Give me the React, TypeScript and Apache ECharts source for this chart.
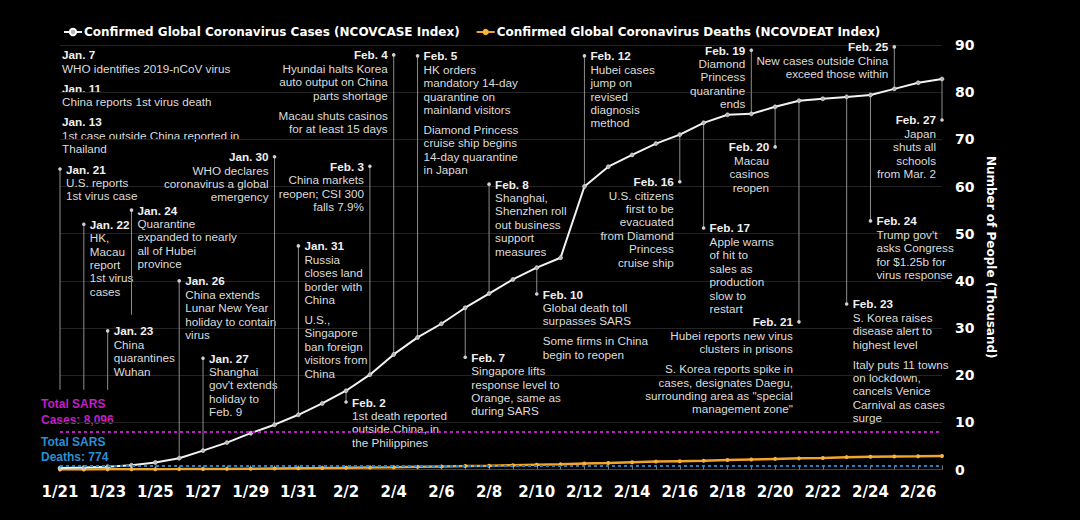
import React, { useEffect, useRef } from "react";
import * as echarts from "echarts";

const dates = [
  "1/21", "1/22", "1/23", "1/24", "1/25", "1/26", "1/27", "1/28", "1/29", "1/30", "1/31",
  "2/1", "2/2", "2/3", "2/4", "2/5", "2/6", "2/7", "2/8", "2/9", "2/10", "2/11", "2/12",
  "2/13", "2/14", "2/15", "2/16", "2/17", "2/18", "2/19", "2/20", "2/21", "2/22", "2/23",
  "2/24", "2/25", "2/26", "2/27",
];

// thousands of people
const cases = [
  0.3, 0.4, 0.6, 0.9, 1.5, 2.4, 4.0, 5.7, 7.7, 9.5, 11.6,
  14.0, 16.7, 20.1, 24.4, 28.0, 30.9, 34.3, 37.3, 40.3, 42.8, 44.9, 60.0,
  64.2, 66.7, 69.1, 71.0, 73.5, 75.2, 75.4, 76.9, 78.2, 78.6, 79.0,
  79.4, 80.7, 82.0, 82.8,
];

const deaths = [
  0.01, 0.02, 0.03, 0.04, 0.06, 0.08, 0.11, 0.13, 0.17, 0.21, 0.26,
  0.3, 0.36, 0.43, 0.49, 0.56, 0.64, 0.72, 0.81, 0.91, 1.02, 1.12, 1.26,
  1.38, 1.53, 1.67, 1.77, 1.87, 2.01, 2.13, 2.25, 2.36, 2.46, 2.62,
  2.7, 2.76, 2.8, 2.86,
];

const sarsCases = 8.096;
const sarsDeaths = 0.774;

const caseName = "Confirmed Global Coronavirus Cases (NCOVCASE Index)";
const deathName = "Confirmed Global Coronavirus Deaths (NCOVDEAT Index)";

type Note = { date: string; at: number; end?: number; side: "r" | "l"; text: string };

const notes: Note[] = [
  { date: "1/21", at: 63.7, end: 16.9, side: "r", text: "Jan. 21\nU.S. reports\n1st virus case" },
  { date: "1/22", at: 52.0, end: 16.9, side: "r", text: "Jan. 22\nHK,\nMacau\nreport\n1st virus\ncases" },
  { date: "1/23", at: 29.4, end: 16.9, side: "r", text: "Jan. 23\nChina\nquarantines\nWuhan" },
  { date: "1/24", at: 55.0, end: 32.8, side: "r", text: "Jan. 24\nQuarantine\nexpanded to nearly\nall of Hubei\nprovince" },
  { date: "1/26", at: 40.0, side: "r", text: "Jan. 26\nChina extends\nLunar New Year\nholiday to contain\nvirus" },
  { date: "1/27", at: 23.6, side: "r", text: "Jan. 27\nShanghai\ngov't extends\nholiday to\nFeb. 9" },
  { date: "1/30", at: 66.3, side: "l", text: "Jan. 30\nWHO declares\ncoronavirus a global\nemergency" },
  { date: "1/31", at: 47.4, side: "r", text: "Jan. 31\nRussia\ncloses land\nborder with\nChina\n\nU.S.,\nSingapore\nban foreign\nvisitors from\nChina" },
  { date: "2/2", at: 14.3, side: "r", text: "Feb. 2\n1st death reported\noutside China, in\nthe Philippines" },
  { date: "2/3", at: 64.3, side: "l", text: "Feb. 3\nChina markets\nreopen; CSI 300\nfalls 7.9%" },
  { date: "2/4", at: 87.9, side: "l", text: "Feb. 4\nHyundai halts Korea\nauto output on China\nparts shortage\n\nMacau shuts casinos\nfor at least 15 days" },
  { date: "2/5", at: 87.7, side: "r", text: "Feb. 5\nHK orders\nmandatory 14-day\nquarantine on\nmainland visitors\n\nDiamond Princess\ncruise ship begins\n14-day quarantine\nin Japan" },
  { date: "2/7", at: 23.8, side: "r", text: "Feb. 7\nSingapore lifts\nresponse level to\nOrange, same as\nduring SARS" },
  { date: "2/8", at: 60.5, side: "r", text: "Feb. 8\nShanghai,\nShenzhen roll\nout business\nsupport\nmeasures" },
  { date: "2/10", at: 37.2, side: "r", text: "Feb. 10\nGlobal death toll\nsurpasses SARS\n\nSome firms in China\nbegin to reopen" },
  { date: "2/12", at: 87.7, side: "r", text: "Feb. 12\nHubei cases\njump on\nrevised\ndiagnosis\nmethod" },
  { date: "2/16", at: 61.0, side: "l", text: "Feb. 16\nU.S. citizens\nfirst to be\nevacuated\nfrom Diamond\nPrincess\ncruise ship" },
  { date: "2/17", at: 51.2, side: "r", text: "Feb. 17\nApple warns\nof hit to\nsales as\nproduction\nslow to\nrestart" },
  { date: "2/19", at: 88.9, side: "l", text: "Feb. 19\nDiamond\nPrincess\nquarantine\nends" },
  { date: "2/20", at: 68.4, side: "l", text: "Feb. 20\nMacau\ncasinos\nreopen" },
  { date: "2/21", at: 31.3, side: "l", text: "Feb. 21\nHubei reports new virus\nclusters in prisons\n\nS. Korea reports spike in\ncases, designates Daegu,\nsurrounding area as \"special\nmanagement zone\"" },
  { date: "2/23", at: 35.1, side: "r", text: "Feb. 23\nS. Korea raises\ndisease alert to\nhighest level\n\nItaly puts 11 towns\non lockdown,\ncancels Venice\nCarnival as cases\nsurge" },
  { date: "2/24", at: 52.7, side: "r", text: "Feb. 24\nTrump gov't\nasks Congress\nfor $1.25b for\nvirus response" },
  { date: "2/25", at: 89.6, side: "l", text: "Feb. 25\nNew cases outside China\nexceed those within" },
  { date: "2/27", at: 74.1, side: "l", text: "Feb. 27\nJapan\nshuts all\nschools\nfrom Mar. 2" },
];

const earlyNotes = [
  "Jan. 7\nWHO identifies 2019-nCoV virus",
  "Jan. 11\nChina reports 1st virus death",
  "Jan. 13\n1st case outside China reported in\nThailand",
];

const LH = 13.4;
const GAP = 6.6;
const NOTE_FONT = "Liberation Sans, Arial, sans-serif";
const NOTE_SIZE = 11.7;
const NOTE_COLOR = "#dcdcdc";

function textBlock(text: string, x: number, yTop: number, align: "left" | "right") {
  const els: any[] = [];
  const paras = text.split("\n\n");
  let y = yTop;
  paras.forEach((p, pi) => {
    let lines = p.split("\n");
    if (pi === 0) {
      els.push({
        type: "text",
        x,
        y,
        style: {
          text: lines[0],
          fill: "#f0f0f0",
          fontFamily: NOTE_FONT,
          fontSize: NOTE_SIZE,
          fontWeight: "bold",
          align,
          textAlign: align,
          verticalAlign: "top",
          textVerticalAlign: "top",
          lineHeight: LH,
        },
      });
      y += LH;
      lines = lines.slice(1);
    }
    if (lines.length) {
      els.push({
        type: "text",
        x,
        y,
        style: {
          text: lines.join("\n"),
          fill: NOTE_COLOR,
          fontFamily: NOTE_FONT,
          fontSize: NOTE_SIZE,
          align,
          textAlign: align,
          verticalAlign: "top",
          textVerticalAlign: "top",
          lineHeight: LH,
        },
      });
      y += lines.length * LH;
    }
    y += GAP;
  });
  return els;
}

export default function App() {
  const ref = useRef<HTMLDivElement>(null);

  useEffect(() => {
    document.body.style.margin = "0";
    document.body.style.background = "#000";
    if (!ref.current) return;
    const chart = echarts.init(ref.current, null, { renderer: "svg" });

    const noteData = notes.map((n, i) => {
      const idx = dates.indexOf(n.date);
      return [idx, n.at, n.end !== undefined ? n.end : cases[idx], i];
    });

    const graphicEls: any[] = [];
    let yTop = 55 - LH / 2;
    earlyNotes.forEach((t) => {
      graphicEls.push(...textBlock(t, 62, yTop, "left"));
      yTop += t.split("\n").length * LH + GAP;
    });
    graphicEls.push({
      type: "text",
      left: 41,
      top: 396,
      style: {
        text: "Total SARS\nCases: 8,096",
        fill: "#c21ec4",
        fontFamily: "Liberation Sans, Arial, sans-serif",
        fontWeight: "bold",
        fontSize: 12,
        lineHeight: 16,
      },
    });
    graphicEls.push({
      type: "text",
      left: 41,
      top: 434,
      style: {
        text: "Total SARS\nDeaths: 774",
        fill: "#2a8fd4",
        fontFamily: "Liberation Sans, Arial, sans-serif",
        fontWeight: "bold",
        fontSize: 12,
        lineHeight: 15.5,
      },
    });

    const option: any = {
      backgroundColor: "#000",
      animation: false,
      textStyle: { fontFamily: "DejaVu Sans" },
      legend: {
        left: 58,
        top: 21,
        itemGap: 16,
        itemWidth: 18,
        itemHeight: 8,
        data: [caseName, deathName],
        textStyle: { color: "#fff", fontWeight: "bold", fontSize: 12, fontFamily: "DejaVu Sans", padding: [0, 0, 0, -3] },
      },
      grid: { left: 60, right: 138, top: 45, bottom: 50.5 },
      xAxis: {
        type: "category",
        data: dates,
        boundaryGap: false,
        axisLine: { show: true, lineStyle: { color: "#444" } },
        axisTick: { show: true, interval: 0, inside: true, length: 4, lineStyle: { color: "#777" } },
        axisLabel: { interval: 1, color: "#fff", fontWeight: "bold", fontSize: 15, margin: 15, fontFamily: "DejaVu Sans" },
        splitLine: { show: false },
      },
      yAxis: {
        type: "value",
        position: "right",
        min: 0,
        max: 90,
        interval: 10,
        name: "Number of People (Thousand)",
        nameLocation: "middle",
        nameRotate: -90,
        nameGap: 38,
        nameTextStyle: { color: "#fff", fontWeight: "bold", fontSize: 12, fontFamily: "DejaVu Sans" },
        axisLabel: { color: "#fff", fontWeight: "bold", fontSize: 14, margin: 13, fontFamily: "DejaVu Sans" },
        splitLine: { show: true, lineStyle: { color: "#232323", width: 1 } },
        axisLine: { show: false },
        axisTick: { show: false },
      },
      graphic: graphicEls,
      series: [
        {
          type: "custom",
          name: "notes",
          silent: true,
          z: 1,
          clip: false,
          encode: { x: 0, y: 1 },
          data: noteData,
          renderItem: (params: any, api: any) => {
            const i = api.value(3) as number;
            const n = notes[i];
            const pDot = api.coord([api.value(0), api.value(1)]);
            const pEnd = api.coord([api.value(0), api.value(2)]);
            const x = pDot[0];
            const children: any[] = [
              {
                type: "line",
                shape: { x1: x, y1: pDot[1], x2: x, y2: pEnd[1] },
                style: { stroke: "#8c8c8c", lineWidth: 1 },
              },
              {
                type: "circle",
                shape: { cx: x, cy: pDot[1], r: 1.8 },
                style: { fill: "#d0d0d0" },
              },
            ];
            const tx = n.side === "r" ? x + 6 : x - 6;
            children.push(...textBlock(n.text, tx, pDot[1] - LH / 2, n.side === "r" ? "left" : "right"));
            return { type: "group", children };
          },
        },
        {
          name: deathName,
          type: "line",
          data: deaths,
          z: 3,
          color: "#f2a42a",
          lineStyle: { color: "#f2a42a", width: 2.5 },
          symbol: "circle",
          symbolSize: 4,
          itemStyle: { color: "#f7b23c" },
          markLine: {
            silent: true,
            symbol: ["none", "none"],
            label: { show: false },
            data: [
              { yAxis: sarsCases, lineStyle: { color: "#b81cba", type: [3, 3], width: 2 } },
              { yAxis: sarsDeaths, lineStyle: { color: "#2a7fc0", type: [3, 3], width: 2 } },
            ],
          },
        },
        {
          name: caseName,
          type: "line",
          data: cases,
          z: 4,
          color: "#f2f2f2",
          lineStyle: { color: "#f2f2f2", width: 2 },
          symbol: "circle",
          symbolSize: 4,
          itemStyle: { color: "#b8b8b8", borderColor: "#ffffff", borderWidth: 0.5 },
        },
      ],
    };

    chart.setOption(option);
    return () => chart.dispose();
  }, []);

  return (
    <div
      ref={ref}
      style={{ position: "absolute", left: 0, top: 0, width: 1080, height: 520, background: "#000" }}
    />
  );
}
